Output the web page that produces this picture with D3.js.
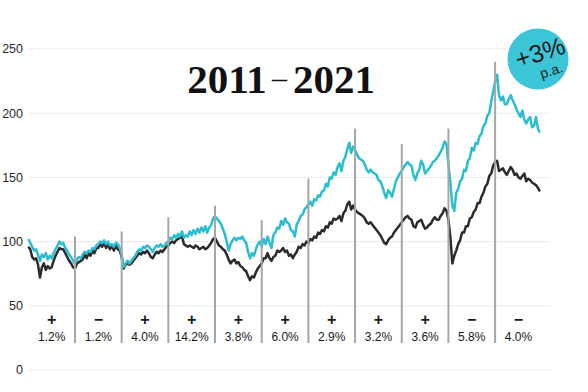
<!DOCTYPE html>
<html><head><meta charset="utf-8">
<script src="https://cdn.jsdelivr.net/npm/d3@7"></script>
<style>body{margin:0;background:#fff}svg{display:block}</style>
</head><body>
<svg id="c" width="588" height="392"></svg>
<script>
// ---- data ----
const yTicks = [0, 50, 100, 150, 200, 250];
const years = [2011, 2012, 2013, 2014, 2015, 2016, 2017, 2018, 2019, 2020, 2021];
const yearSigns = ["+", "\u2212", "+", "+", "+", "+", "+", "+", "+", "\u2212", "\u2212"];
const yearPct = ["1.2%", "1.2%", "4.0%", "14.2%", "3.8%", "6.0%", "2.9%", "3.2%", "3.6%", "5.8%", "4.0%"];
// height (index value) reached by the year-boundary markers, 2012 … 2021
const markerTops = [104, 108, 119, 128, 117, 149, 188, 176, 188, 240];
const markerBase = 21;
const titleParts = ["2011", "\u2013", "2021"];
const badgeMain = "+3%";
const badgeSub = "p.a.";
// semi-monthly index values, Jan 2011 – Dec 2021
const cyanSeries = [
 102,99,96,93,94,90,85,90,88,91,86,89,87,91,94,97,100,98,99,95,93,90,88,85,
 83,86,88,87,90,92,91,93,92,95,94,97,98,100,99,101,98,100,97,98,96,99,98,95,
 90,80,83,85,83,85,87,89,92,94,93,96,95,97,96,94,92,95,97,96,98,96,97,99,
 100,103,102,105,103,106,104,108,103,105,104,108,105,109,106,110,107,111,108,112,107,111,113,118,
 120,118,116,114,110,106,100,93,98,101,103,101,103,102,104,101,99,92,87,91,89,94,98,100,
 96,102,98,104,99,95,105,107,111,110,116,113,118,115,114,109,108,104,113,116,120,121,125,127,
 129,131,128,133,132,136,135,139,140,145,143,150,149,154,152,158,161,155,163,166,172,177,169,174,
 171,168,165,164,163,160,156,154,156,154,153,152,148,147,143,138,134,140,138,135,141,147,150,153,
 155,158,160,162,160,159,152,148,153,156,163,160,153,155,157,159,162,163,165,167,170,173,178,176,
 160,146,128,124,138,141,147,149,156,155,163,165,173,171,177,176,182,184,190,192,198,200,209,217,
 225,230,214,210,213,207,207,211,214,210,207,203,200,197,202,195,192,195,197,189,190,197,188,185
];
const darkSeries = [
 96,94,88,86,87,82,72,80,83,78,81,79,80,85,89,92,95,94,94,91,88,85,83,80,
 79,83,84,85,86,90,87,91,89,93,91,95,95,98,96,99,95,98,94,97,93,97,94,93,
 88,79,82,83,82,83,85,87,89,91,90,92,91,93,91,88,87,90,92,91,93,92,94,96,
 97,99,100,99,101,102,103,104,98,97,96,97,96,95,97,96,94,95,96,94,95,97,99,102,
 103,100,97,96,94,93,90,86,83,85,86,83,84,81,80,78,77,73,70,73,72,76,79,81,
 83,87,87,91,87,85,88,89,93,92,93,95,92,93,89,90,87,90,92,96,95,98,97,100,
 99,102,101,104,103,107,106,109,108,112,111,115,114,118,117,118,120,116,122,124,129,131,125,128,
 125,123,122,121,120,118,115,114,115,113,111,109,107,105,102,99,98,101,103,104,107,109,111,113,
 115,117,119,120,118,117,112,111,115,116,117,113,110,111,113,114,117,119,117,117,120,122,126,124,
 117,103,83,89,93,98,101,107,107,112,112,118,119,123,125,130,130,135,138,143,145,151,153,159,
 162,163,155,156,157,154,152,155,158,156,152,153,150,149,151,153,147,149,148,146,145,144,142,139
];

// ---- drawing ----
const svg = d3.select("#c");
const x = d3.scaleLinear().domain([0, 132]).range([28.3, 541.8]); // months since Jan 2011
const y = d3.scaleLinear().domain([0, 250]).range([370, 49]);
const sans = "'Liberation Sans', Arial, sans-serif";

// gridlines
svg.append("g").selectAll("line").data(yTicks).join("line")
  .attr("x1", 28).attr("x2", 550)
  .attr("y1", d => y(d)).attr("y2", d => y(d))
  .attr("stroke", "#ebebeb").attr("stroke-width", 1);

// y labels
svg.append("g").selectAll("text").data(yTicks).join("text")
  .attr("x", 23).attr("y", d => y(d)).attr("dy", "0.35em")
  .attr("text-anchor", "end")
  .attr("font-family", sans).attr("font-size", 12.5).attr("fill", "#2a2a2a")
  .text(d => d);

const line = d3.line().x((d, i) => x(i * 0.5)).y(d => y(d)).curve(d3.curveLinear);

svg.append("path").datum(darkSeries).attr("d", line)
  .attr("fill", "none").attr("stroke", "#2b2b2b").attr("stroke-width", 2.5).attr("stroke-linejoin", "round");
svg.append("path").datum(cyanSeries).attr("d", line)
  .attr("fill", "none").attr("stroke", "#2bbdd0").attr("stroke-width", 2.5).attr("stroke-linejoin", "round");

// year boundary markers
svg.append("g").selectAll("line").data(markerTops).join("line")
  .attr("x1", (d, i) => x(12 * (i + 1))).attr("x2", (d, i) => x(12 * (i + 1)))
  .attr("y1", y(markerBase)).attr("y2", d => y(d))
  .attr("stroke", "#a6a6a6").attr("stroke-width", 2);

// year labels
const lab = svg.append("g").selectAll("g").data(years).join("g")
  .attr("transform", (d, i) => `translate(${x(12 * i + 6)},0)`);
lab.append("text").attr("y", 325).attr("text-anchor", "middle")
  .attr("font-family", sans).attr("font-weight", "bold").attr("font-size", 16).attr("fill", "#1a1a1a")
  .text((d, i) => yearSigns[i]);
lab.append("text").attr("y", 341).attr("text-anchor", "middle")
  .attr("font-family", sans).attr("font-size", 12).attr("fill", "#1a1a1a")
  .text((d, i) => yearPct[i]);

// title
const t = svg.append("text").attr("x", 281).attr("y", 93).attr("text-anchor", "middle")
  .attr("font-family", "'Liberation Serif', 'Times New Roman', serif").attr("font-weight", "bold")
  .attr("font-size", 41).attr("fill", "#111");
t.append("tspan").text(titleParts[0]);
t.append("tspan").attr("dx", 5).attr("dy", -5).attr("font-size", 30).attr("font-weight", "normal").text(titleParts[1]);
t.append("tspan").attr("dx", 6).attr("dy", 5).text(titleParts[2]);

// badge
const b = svg.append("g").attr("transform", "translate(538,59)");
b.append("circle").attr("r", 32).attr("fill", "#3cc5d6").attr("stroke", "#fff").attr("stroke-width", 3);
const bt = b.append("g").attr("transform", "rotate(-18)");
bt.append("text").attr("x", 4).attr("y", 3).attr("text-anchor", "middle")
  .attr("font-family", sans).attr("font-size", 25).attr("fill", "#1a1a1a").text(badgeMain);
bt.append("text").attr("x", 9).attr("y", 20).attr("text-anchor", "middle")
  .attr("font-family", sans).attr("font-size", 14).attr("fill", "#1a1a1a").text(badgeSub);
</script>
</body></html>
